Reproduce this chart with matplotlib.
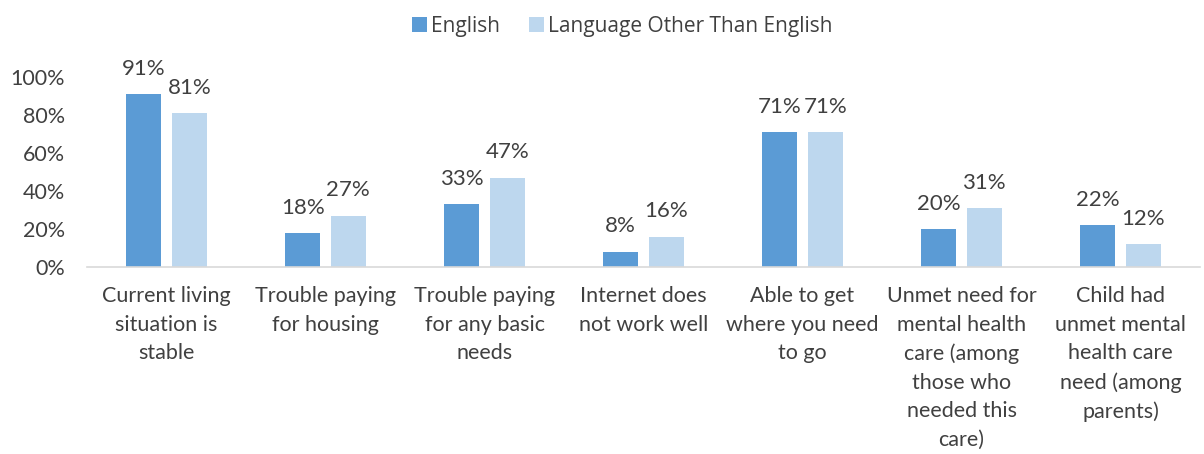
import numpy as np
import matplotlib.pyplot as plt
from matplotlib.ticker import PercentFormatter

categories = [
    "Current living\nsituation is\nstable",
    "Trouble paying\nfor housing",
    "Trouble paying\nfor any basic\nneeds",
    "Internet does\nnot work well",
    "Able to get\nwhere you need\nto go",
    "Unmet need for\nmental health\ncare (among\nthose who\nneeded this\ncare)",
    "Child had\nunmet mental\nhealth care\nneed (among\nparents)",
]
english = [91, 18, 33, 8, 71, 20, 22]
other = [81, 27, 47, 16, 71, 31, 12]
series_names = ["English", "Language Other Than English"]

blue = "#5B9BD5"
light_blue = "#BDD7EE"
text_color = "#404040"

plt.rcParams["font.family"] = ["Lato", "DejaVu Sans"]

fig = plt.figure(figsize=(12.04, 4.54), dpi=100)
ax = fig.add_axes([0.0723, 0.412, 0.9244, 0.418])

x = np.arange(len(categories))
w = 0.22
off = 0.143
b1 = ax.bar(x - off, english, w, color=blue, label=series_names[0])
b2 = ax.bar(x + off, other, w, color=light_blue, label=series_names[1])

for bars, vals in [(b1, english), (b2, other)]:
    for rect, v in zip(bars, vals):
        ax.annotate(f"{v}%", (rect.get_x() + rect.get_width() / 2, v),
                    xytext=(0, 11), textcoords="offset points",
                    ha="center", va="bottom", fontsize=16, color=text_color)

ax.set_xlim(-0.5, len(categories) - 0.5)
ax.set_ylim(0, 100)
ax.set_yticks(range(0, 101, 20))
ax.yaxis.set_major_formatter(PercentFormatter(decimals=0))
ax.set_xticks(x)
ax.set_xticklabels(categories, fontsize=15.5, color=text_color, linespacing=1.53)
ax.tick_params(axis="y", labelsize=15.5)
ax.tick_params(axis="both", length=0, colors=text_color)
ax.tick_params(axis="x", pad=14)
ax.tick_params(axis="y", pad=16)

for s in ["top", "right", "left"]:
    ax.spines[s].set_visible(False)
ax.spines["bottom"].set_color("#D9D9D9")
ax.spines["bottom"].set_linewidth(1.2)

fig.legend(loc="upper center", bbox_to_anchor=(0.517, 1.006), ncol=2, frameon=False,
           prop={"family": "Open Sans", "size": 15}, labelcolor=text_color,
           handlelength=0.7, handleheight=0.7, handletextpad=0.2, columnspacing=1.4)

fig.savefig("out.png", dpi=100)
